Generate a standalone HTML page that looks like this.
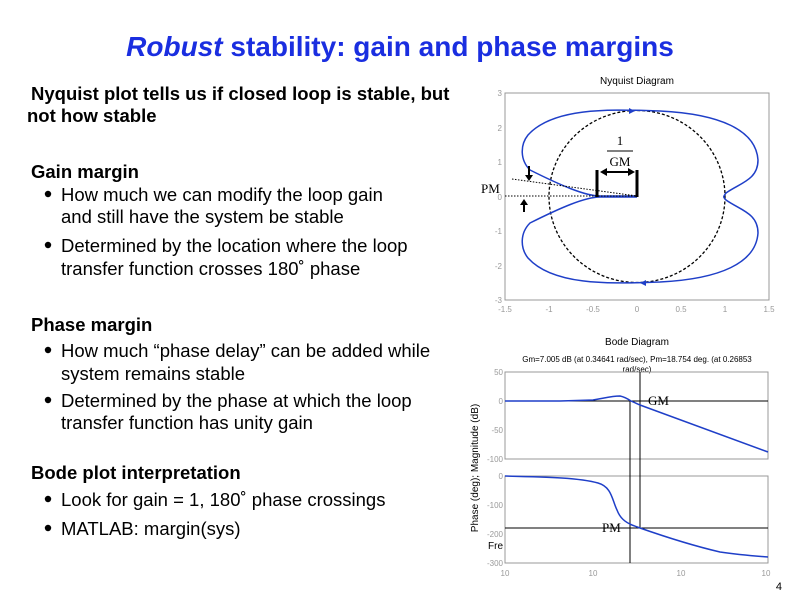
<!DOCTYPE html>
<html><head><style>body{margin:0;background:#fff}svg{display:block}</style></head><body>
<svg width="799" height="599" xmlns="http://www.w3.org/2000/svg" font-family="Liberation Sans, Arial, sans-serif">
<text x="400" y="56" text-anchor="middle" font-size="28" font-weight="bold" fill="#1a2ee0"><tspan font-style="italic">Robust</tspan> stability: gain and phase margins</text>
<g font-size="18.5" fill="#000">
<text x="31" y="100" font-weight="bold">Nyquist plot tells us if closed loop is stable, but</text>
<text x="27" y="122" font-weight="bold">not how stable</text>
<text x="31" y="178" font-weight="bold">Gain margin</text>
<circle cx="48" cy="194" r="3.2"/><text x="61" y="201">How much we can modify the loop gain</text>
<text x="61" y="223">and still have the system be stable</text>
<circle cx="48" cy="245" r="3.2"/><text x="61" y="252">Determined by the location where the loop</text>
<text x="61" y="275">transfer function crosses 180˚ phase</text>
<text x="31" y="331" font-weight="bold">Phase margin</text>
<circle cx="48" cy="350" r="3.2"/><text x="61" y="357">How much “phase delay” can be added while</text>
<text x="61" y="380">system remains stable</text>
<circle cx="48" cy="400" r="3.2"/><text x="61" y="407">Determined by the phase at which the loop</text>
<text x="61" y="429">transfer function has unity gain</text>
<text x="31" y="479" font-weight="bold">Bode plot interpretation</text>
<circle cx="48" cy="499" r="3.2"/><text x="61" y="506">Look for gain = 1, 180˚ phase crossings</text>
<circle cx="48" cy="528" r="3.2"/><text x="61" y="535">MATLAB: margin(sys)</text>
</g>
<!-- Nyquist -->
<text x="637" y="84" text-anchor="middle" font-size="10">Nyquist Diagram</text>
<rect x="505" y="93" width="264" height="207" fill="none" stroke="#999" stroke-width="1"/>
<g font-size="8" fill="#999" text-anchor="end">
<text x="502" y="96">3</text><text x="502" y="131">2</text><text x="502" y="165">1</text><text x="502" y="200">0</text><text x="502" y="234">-1</text><text x="502" y="269">-2</text><text x="502" y="303">-3</text>
</g>
<g font-size="8" fill="#999" text-anchor="middle">
<text x="505" y="312">-1.5</text><text x="549" y="312">-1</text><text x="593" y="312">-0.5</text><text x="637" y="312">0</text><text x="681" y="312">0.5</text><text x="725" y="312">1</text><text x="769" y="312">1.5</text>
</g>
<ellipse cx="637" cy="196.5" rx="88" ry="86" fill="none" stroke="#000" stroke-width="1.3" stroke-dasharray="3,2"/>
<path d="M637,196 L600,196 C585,196 560,185 530,170 C520,160 520,145 528,135 C555,105 620,110 660,111 C720,114 756,130 758,160 C758,180 740,183 726,193 C723,197 723,197 726,200 C740,210 758,213 758,233 C756,263 720,279 660,282 C620,283 555,288 528,258 C520,248 520,233 530,223 C560,208 585,197 600,197 L637,197" fill="none" stroke="#1f3fc8" stroke-width="1.5"/>
<path d="M635,111 l-6,-3 v6z" fill="#1f3fc8"/><path d="M640,283 l6,-3 v6z" fill="#1f3fc8"/>
<line x1="505" y1="196" x2="637" y2="196" stroke="#000" stroke-dasharray="1.5,1.5"/>
<line x1="512" y1="179" x2="637" y2="196" stroke="#000" stroke-dasharray="1.5,1.5"/>
<path d="M597,170 V197 M637,170 V197" stroke="#000" stroke-width="3"/>
<path d="M603,172 H632" stroke="#000" stroke-width="2"/>
<path d="M600,172 l7,-4 v8z M635,172 l-7,-4 v8z" fill="#000"/>
<text x="620" y="145" text-anchor="middle" font-family="Liberation Serif, serif" font-size="13">1</text>
<line x1="607" y1="151" x2="633" y2="151" stroke="#000"/>
<text x="620" y="166" text-anchor="middle" font-family="Liberation Serif, serif" font-size="13">GM</text>
<text x="481" y="193" font-family="Liberation Serif, serif" font-size="13">PM</text>
<path d="M529,166 v10" stroke="#000" stroke-width="2"/><path d="M525,175 h8 l-4,6z" fill="#000"/>
<path d="M524,212 v-8" stroke="#000" stroke-width="2"/><path d="M520,205 h8 l-4,-6z" fill="#000"/>
<!-- Bode -->
<text x="637" y="345" text-anchor="middle" font-size="10">Bode Diagram</text>
<text x="637" y="362" text-anchor="middle" font-size="8">Gm=7.005 dB (at 0.34641 rad/sec), Pm=18.754 deg. (at 0.26853</text>
<text x="637" y="372" text-anchor="middle" font-size="8">rad/sec)</text>
<rect x="505" y="372" width="263" height="87" fill="none" stroke="#999"/>
<rect x="505" y="476" width="263" height="87" fill="none" stroke="#999"/>
<g font-size="8" fill="#999" text-anchor="end">
<text x="503" y="375">50</text><text x="503" y="404">0</text><text x="503" y="433">-50</text><text x="503" y="462">-100</text>
<text x="503" y="479">0</text><text x="503" y="508">-100</text><text x="503" y="537">-200</text><text x="503" y="566">-300</text>
</g>
<g font-size="8" fill="#999" text-anchor="middle">
<text x="505" y="576">10</text><text x="593" y="576">10</text><text x="681" y="576">10</text><text x="766" y="576">10</text>
</g>
<text x="488" y="549" font-size="10">Fre</text>
<text transform="translate(478,468) rotate(-90)" text-anchor="middle" font-size="10">Phase (deg); Magnitude (dB)</text>
<line x1="505" y1="401" x2="768" y2="401" stroke="#000"/>
<line x1="505" y1="528" x2="768" y2="528" stroke="#000"/>
<line x1="630" y1="401" x2="630" y2="563" stroke="#000"/>
<line x1="640" y1="372" x2="640" y2="528" stroke="#000"/>
<path d="M505,401 L560,401 L593,400 C605,398 612,396 620,396 C625,397 628,399 631,401 L640,405 L768,452" fill="none" stroke="#1f3fc8" stroke-width="1.5"/>
<path d="M505,476 C550,477 580,478 598,483 C612,487 612,500 617,510 C620,518 625,522 632,525 L640,528 C660,535 690,545 720,552 C740,555 755,556 768,557" fill="none" stroke="#1f3fc8" stroke-width="1.5"/>
<text x="648" y="405" font-family="Liberation Serif, serif" font-size="13">GM</text>
<text x="602" y="532" font-family="Liberation Serif, serif" font-size="13">PM</text>
<text x="782" y="590" text-anchor="end" font-size="11">4</text>
</svg>
</body></html>
